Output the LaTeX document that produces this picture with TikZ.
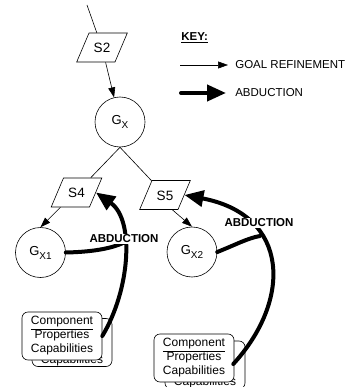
\documentclass[tikz,border=0pt]{standalone}
\usepackage{fontspec}
\setmainfont{Liberation Sans}
\usetikzlibrary{arrows.meta,shapes.geometric,calc}
\newcommand{\gsub}[1]{\raisebox{-4pt}{\fontsize{10}{12}\selectfont #1}}
\begin{document}
\begin{tikzpicture}[x=1pt,y=-1pt,line width=0.6pt,
  every node/.style={font=\fontsize{11.5}{13.5}\selectfont},
  para/.style={draw, trapezium, trapezium left angle=67, trapezium right angle=113,
    font=\fontsize{13.5}{16}\selectfont, text width=18pt, align=center,
    text height=10pt, text depth=0pt, inner xsep=4pt, inner ysep=9.5pt},
  goal/.style={draw, circle, minimum size=50pt, inner sep=0pt, font=\fontsize{13}{16}\selectfont},
  comp/.style={draw, rounded corners=6pt, fill=white, minimum width=80pt,
    minimum height=48pt, align=center, inner sep=1pt, font=\fontsize{12}{14}\selectfont},
  thinarrow/.style={-{Triangle[length=10pt,width=7pt]}, line width=0.6pt},
  thickline/.style={line width=4pt, line cap=round},
  thickarrow/.style={thickline, -{Triangle[length=19pt,width=16pt]}},
  lbl/.style={font=\fontsize{11.5}{13.5}\selectfont\bfseries, fill=white, inner sep=1pt},
  keytext/.style={anchor=west, inner sep=0pt}
]
\useasboundingbox (0,0) rectangle (349,387);

% goal graph
\coordinate (top) at (87,5);
\node[para] (S2) at (102,47.5) {S2};
\node[goal] (Gx) at (120,122) {G\gsub{X}};
\node[para] (S4) at (76.5,192.5) {S4};
\node[para] (S5) at (165,195) {S5};
\node[goal] (Gx1) at (40.5,252.5) {G\gsub{X1}};
\node[goal] (Gx2) at (192,252) {G\gsub{X2}};

\draw (top) -- (S2);
\draw[thinarrow] (S2) -- (Gx);
\draw (Gx.south) -- (S4);
\draw (Gx.south) -- (S5);
\draw[thinarrow] ($(S4.bottom left corner)!0.25!(S4.bottom right corner)$) -- (Gx1.north);
\draw[thinarrow] ($(S5.bottom left corner)!0.85!(S5.bottom right corner)$) -- (Gx2.north);

% component boxes
\node[comp, text height=41pt, text depth=0pt] (C1b) at (72,342.5) {Capabilities};
\node[comp] (C1) at (62,336) {\underline{Component}\\Properties\\Capabilities};
\node[comp, text height=41pt, text depth=0pt] (C2b) at (205,365) {Capabilities};
\node[comp] (C2) at (194,358) {\underline{Component}\\Properties\\Capabilities};

% abduction curves
\coordinate (j1) at (123,243);
\coordinate (j2) at (260,236);
\draw[thickarrow] (C1.east) .. controls (130,290) and (135,220) .. (S4.east);
\draw[thickline] (Gx1.east) .. controls (90,252) and (110,249) .. (j1);
\draw[thickarrow] ($(C2.east)+(-1,6)$) .. controls (292,300) and (290,215) .. (S5.east);
\draw[thickline] (Gx2.east) .. controls (235,245) and (248,238) .. (j2);
\node[lbl] (ab1) at (124,239) {ABDUCTION};
\node[lbl] (ab2) at (259,223) {ABDUCTION};

% key
\node[keytext] (key) at (181,38) {\bfseries\underline{KEY:}};
\node[keytext] (gr) at (235,65) {GOAL REFINEMENT};
\node[keytext] (ab) at (235,93) {ABDUCTION};
\coordinate (k1) at (180,65);
\coordinate (k2) at (181,93);
\draw[thinarrow, shorten >=7pt] (k1) -- (gr.west);
\draw[thickarrow, shorten >=9pt] (k2) -- (ab.west);
\end{tikzpicture}
\end{document}
